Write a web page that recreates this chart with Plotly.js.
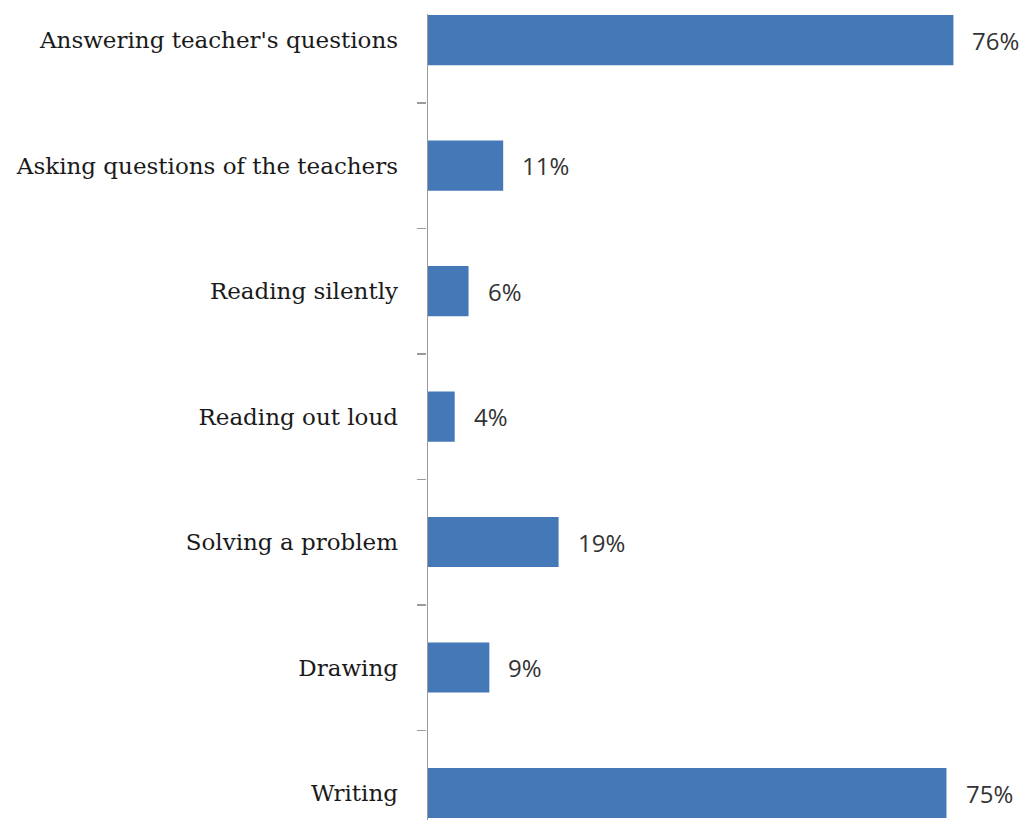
<!DOCTYPE html>
<html>
<head>
<meta charset="utf-8">
<script src="https://cdn.plot.ly/plotly-3.0.1.min.js"></script>
<style>html,body{margin:0;padding:0;background:#fff;}#chart{width:1031px;height:820px;}</style>
</head>
<body>
<div id="chart"></div>
<script>
const categories = [
  "Answering teacher's questions",
  "Asking questions of the teachers",
  "Reading silently",
  "Reading out loud",
  "Solving a problem",
  "Drawing",
  "Writing"
];
const values = [76, 11, 6, 4, 19, 9, 75];

const trace = {
  type: 'bar',
  orientation: 'h',
  x: values,
  y: categories,
  width: 0.4,
  marker: {color: '#4478b7', line: {width: 0}},
  hoverinfo: 'none'
};

const annotations = values.map((v, i) => ({
  x: v, y: categories[i], xref: 'x', yref: 'y',
  text: v + '%', showarrow: false, xanchor: 'left', xshift: 17,
  font: {family: 'Open Sans, Liberation Sans, sans-serif', size: 24, color: '#333333'}
}));

const layout = {
  width: 1031, height: 820,
  margin: {l: 427, r: 0, t: 0, b: 0},
  paper_bgcolor: '#ffffff', plot_bgcolor: '#ffffff',
  showlegend: false,
  xaxis: {range: [0, 87.2], visible: false, fixedrange: true},
  yaxis: {
    type: 'category',
    categoryorder: 'array', categoryarray: categories,
    range: [6.215, -0.319],
    showline: false,
    ticks: 'outside', tickson: 'boundaries', ticklen: 9, tickcolor: '#9a9a9a', tickwidth: 1.5,
    ticklabelstandoff: 28,
    showgrid: false, zeroline: false,
    tickfont: {family: 'DejaVu Serif, serif', size: 23, color: '#1a1a1a'}
  },
  shapes: [{
    type: 'line', xref: 'x', yref: 'paper',
    x0: 0, x1: 0, y0: 0, y1: 0.983,
    line: {color: '#9a9a9a', width: 2}
  }],
  annotations: annotations
};

Plotly.newPlot('chart', [trace], layout, {staticPlot: true});
</script>
</body>
</html>
